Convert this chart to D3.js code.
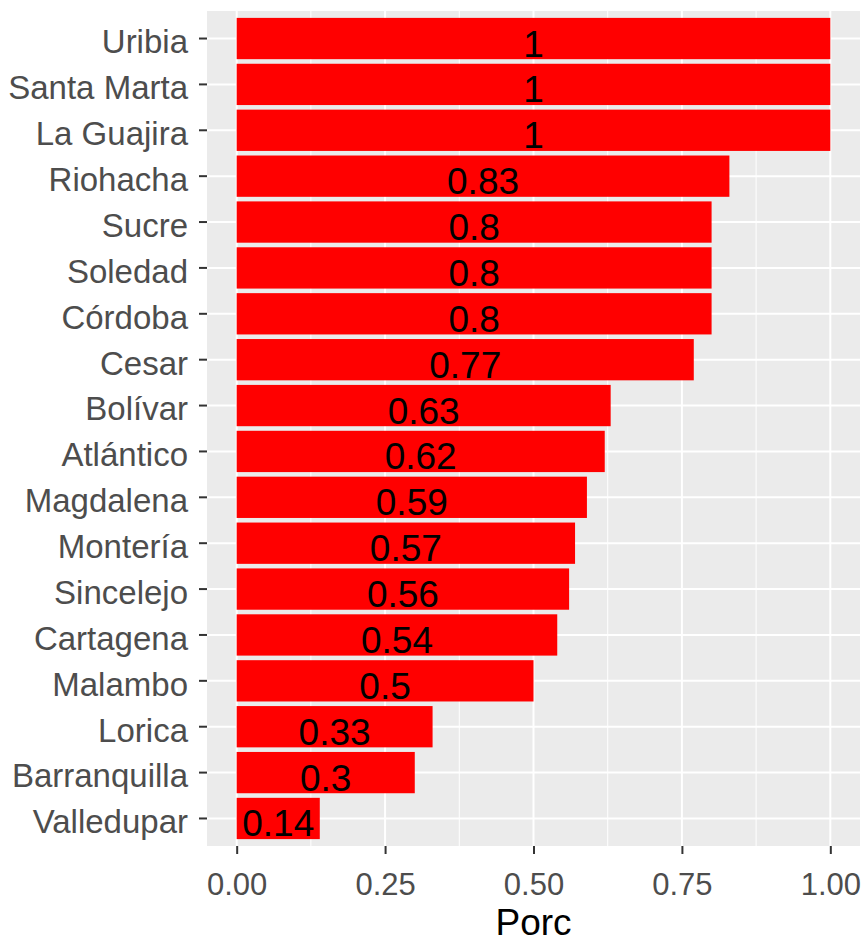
<!DOCTYPE html>
<html>
<head>
<meta charset="utf-8">
<script src="https://d3js.org/d3.v7.min.js"></script>
<style>
  body { margin: 0; background: #fff; }
  #chart { width: 867px; height: 942px; }
</style>
</head>
<body>
<div id="chart"></div>
<script>
// categories top to bottom
const places = ['Uribia', 'Santa Marta', 'La Guajira', 'Riohacha', 'Sucre', 'Soledad',
  'Córdoba', 'Cesar', 'Bolívar', 'Atlántico', 'Magdalena', 'Montería', 'Sincelejo',
  'Cartagena', 'Malambo', 'Lorica', 'Barranquilla', 'Valledupar'];
const porc = [1, 1, 1, 0.83, 0.8, 0.8, 0.8, 0.77, 0.63, 0.62, 0.59, 0.57, 0.56,
  0.54, 0.5, 0.33, 0.3, 0.14];
const xTicks = [0, 0.25, 0.5, 0.75, 1];
const xMinor = [0.125, 0.375, 0.625, 0.875];

const data = places.map((p, i) => ({ place: p, val: porc[i] }));

const W = 867, H = 942;
const margin = {top: 11, right: 7, bottom: 96, left: 207};
const width = W - margin.left - margin.right;
const height = H - margin.top - margin.bottom;

const svg = d3.select('#chart').append('svg')
  .attr('width', W)
  .attr('height', H)
  .style('font-family', '"Liberation Sans", Arial, sans-serif');

const g = svg.append('g')
  .attr('transform', `translate(${margin.left},${margin.top})`);

// ggplot style expansion of 5% on each side
const x = d3.scaleLinear()
  .domain([-0.05, 1.05])
  .range([0, width]);

const y = d3.scaleBand()
  .domain(places)
  .range([0, height])
  .paddingInner(0.1)
  .paddingOuter(0.15);

// panel
g.append('rect')
  .attr('width', width)
  .attr('height', height)
  .attr('fill', '#EBEBEB');

g.selectAll('.minor')
  .data(xMinor)
  .join('line')
    .attr('x1', d => x(d)).attr('x2', d => x(d))
    .attr('y1', 0).attr('y2', height)
    .attr('stroke', '#fff').attr('stroke-width', 1);

g.selectAll('.major')
  .data(xTicks)
  .join('line')
    .attr('x1', d => x(d)).attr('x2', d => x(d))
    .attr('y1', 0).attr('y2', height)
    .attr('stroke', '#fff').attr('stroke-width', 2);

g.selectAll('.hgrid')
  .data(places)
  .join('line')
    .attr('x1', 0).attr('x2', width)
    .attr('y1', d => y(d) + y.bandwidth() / 2)
    .attr('y2', d => y(d) + y.bandwidth() / 2)
    .attr('stroke', '#fff').attr('stroke-width', 2);

// bars
g.selectAll('.bar')
  .data(data)
  .join('rect')
    .attr('x', x(0))
    .attr('y', d => y(d.place))
    .attr('width', d => x(d.val) - x(0))
    .attr('height', y.bandwidth())
    .attr('fill', '#FF0000');

// value labels, centred on the middle of each bar
g.selectAll('.lbl')
  .data(data)
  .join('text')
    .attr('x', d => x(d.val / 2))
    .attr('y', d => y(d.place) + y.bandwidth() / 2 + 18)
    .attr('text-anchor', 'middle')
    .attr('font-size', 37)
    .attr('fill', '#000')
    .text(d => d.val);

// axes
const yAxis = g.append('g')
  .call(d3.axisLeft(y).tickSize(8).tickPadding(11));
yAxis.select('.domain').remove();
yAxis.selectAll('line').attr('stroke', '#333').attr('stroke-width', 2);
yAxis.selectAll('text')
  .attr('font-size', 33)
  .attr('fill', '#4D4D4D')
  .attr('dy', '0.45em');

const xAxis = g.append('g')
  .attr('transform', `translate(0,${height})`)
  .call(d3.axisBottom(x).tickValues(xTicks).tickFormat(d3.format('.2f')).tickSize(8));
xAxis.select('.domain').remove();
xAxis.selectAll('line').attr('stroke', '#333').attr('stroke-width', 2);
xAxis.selectAll('text')
  .attr('font-size', 31)
  .attr('fill', '#4D4D4D')
  .attr('y', 895 - margin.top - height)
  .attr('dy', 0);

svg.append('text')
  .attr('x', margin.left + width / 2)
  .attr('y', 935)
  .attr('text-anchor', 'middle')
  .attr('font-size', 37)
  .attr('fill', '#000')
  .text('Porc');
</script>
</body>
</html>
